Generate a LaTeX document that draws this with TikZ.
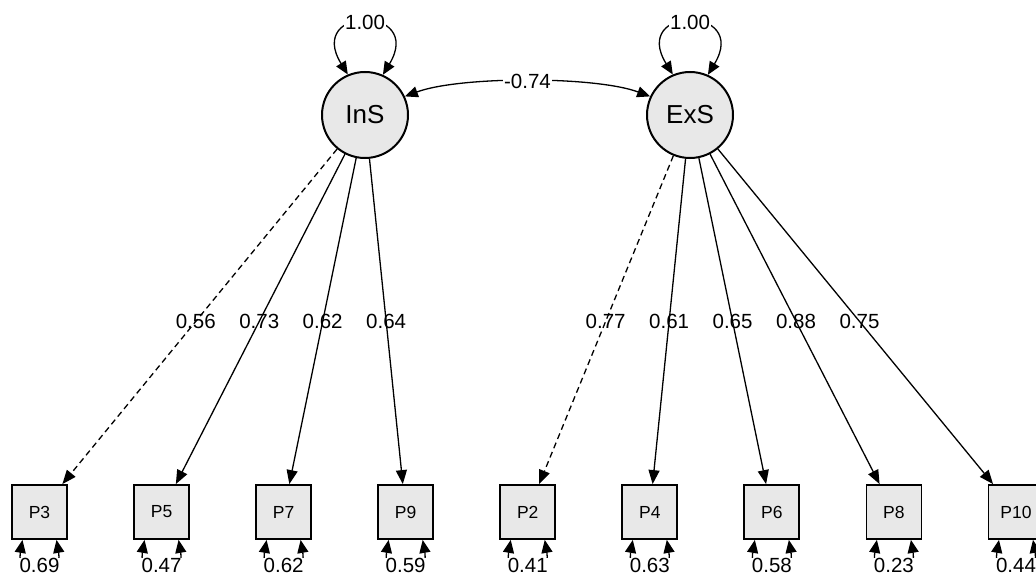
\documentclass[tikz,border=0pt]{standalone}
\usepackage{fontspec}
\setmainfont{Liberation Sans}
\usetikzlibrary{arrows.meta,calc}
\begin{document}
\begin{tikzpicture}[x=1pt,y=-1pt,
  tipend/.style={-{Triangle[length=14pt,width=11pt]}},
  tipboth/.style={{Triangle[length=13pt,width=11pt]}-{Triangle[length=13pt,width=11pt]}},
  lat/.style={circle,draw,line width=2pt,fill=black!9,minimum size=86pt,inner sep=0pt,font=\fontsize{26}{30}\selectfont},
  obs/.style={rectangle,draw,line width=1.8pt,fill=black!9,minimum width=55pt,minimum height=54pt,inner sep=0pt,font=\fontsize{17.5}{20}\selectfont},
  lbl/.style={font=\fontsize{20.5}{24}\selectfont,inner sep=1pt},
  lblw/.style={lbl,fill=white},
  conn/.style={line width=1.3pt},
  dashconn/.style={conn,dash pattern=on 6pt off 4pt}]
\useasboundingbox (0,0) rectangle (1036,578);

% latent variables
\node[lat] (InS) at (365,115) {InS};
\node[lat] (ExS) at (690,115) {ExS};

% observed variables
\foreach \name/\i in {P3/0,P5/1,P7/2,P9/3,P2/4,P4/5,P6/6,P8/7,P10/8}{
  \node[obs] (\name) at ({39.5+122.06*\i},512) {\name};
}

% variances of latent variables
\foreach \lv in {InS,ExS}{
  \draw[conn,tipboth] (\lv.113) .. controls ($(\lv)+(-60,-110)$) and ($(\lv)+(60,-110)$) .. (\lv.66)
    node[lblw,pos=0.5] {1.00};
}

% covariance
\draw[conn,tipboth] (InS.25) .. controls (460,76) and (595,76) .. (ExS.155)
  node[lblw,pos=0.5] (cov) {-0.74};

% loadings
\foreach \lv/\ov/\val/\sty in {InS/P3/0.56/dashconn,InS/P5/0.73/conn,InS/P7/0.62/conn,InS/P9/0.64/conn,
  ExS/P2/0.77/dashconn,ExS/P4/0.61/conn,ExS/P6/0.65/conn,ExS/P8/0.88/conn,ExS/P10/0.75/conn}{
  \draw[\sty,tipend] (\lv) -- (\ov);
  \node[lbl] (l\ov) at ($(\lv)!0.52!(\ov)$) {\val};
}

% residual variances
\foreach \ov/\val in {P3/0.69,P5/0.47,P7/0.62,P9/0.59,P2/0.41,P4/0.63,P6/0.58,P8/0.23,P10/0.44}{
  \draw[conn,tipboth] ($(\ov.south)+(-17,0)$) .. controls ($(\ov.south)+(-24,40)$) and ($(\ov.south)+(24,40)$) .. ($(\ov.south)+(17,0)$);
  \node[lblw,inner sep=0.5pt] (r\ov) at ($(\ov.south)+(0,26)$) {\val};
}
\end{tikzpicture}
\end{document}
